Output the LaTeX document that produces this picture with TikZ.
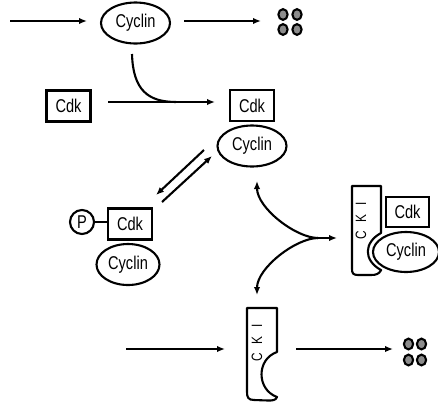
\documentclass[tikz,border=0pt]{standalone}
\usepackage{fontspec}
\setmainfont[FakeStretch=0.79]{Liberation Sans}
\usetikzlibrary{shapes.geometric,arrows.meta}
\newcommand{\lblfont}{\fontsize{18.5}{20}\selectfont}
\newcommand{\ckifont}{\fontsize{15}{17}\selectfont}
\begin{document}
\begin{tikzpicture}[x=1pt,y=-1pt,
  lw/.style={line width=2.1pt},
  box/.style={draw, line width=2.1pt, rectangle, minimum width=44pt, minimum height=31pt, inner sep=0pt, font=\lblfont},
  cyc/.style={draw, line width=2.1pt, ellipse, minimum width=69pt, minimum height=41pt, inner sep=0pt, font=\lblfont},
  arr/.style={line width=2.1pt, -{Latex[length=8pt,width=6.5pt]}},
  dotc/.style={draw, line width=2.1pt, fill=black!45, ellipse, minimum width=9.2pt, minimum height=10.8pt, inner sep=0pt},
  cki/.style={line width=2.1pt, line join=round},
  ckitext/.style={rotate=90, inner sep=0pt, font=\ckifont}
]
\useasboundingbox (0,0) rectangle (438,410);

% ---- top row
\coordinate (s1) at (10,21);
\coordinate (t1) at (87,21);
\node[cyc] (cy1) at (135.5,23) {Cyclin};
\coordinate (s2) at (184,21);
\coordinate (t2) at (261,21);
\node[dotc] (d1) at (283,14.5) {};
\node[dotc] (d2) at (297,14.5) {};
\node[dotc] (d3) at (283,29.5) {};
\node[dotc] (d4) at (297,29.5) {};
\draw[arr] (s1) -- (t1);
\draw[arr] (s2) -- (t2);

% ---- Cdk + Cyclin
\node[box] (cdk1) at (68.5,106) {Cdk};
\node[box] (cdk2) at (252,105.5) {Cdk};
\node[cyc] (cy2) at (252,146) {Cyclin};
\coordinate (h1) at (108,102);
\coordinate (h2) at (215,102);
\coordinate (m1) at (176,102);
\coordinate (c1) at (132,54);
\draw[arr] (h1) -- (h2);
\draw[lw] (c1) .. controls (133,90) and (148,102) .. (m1);

% ---- double arrows
\coordinate (a1s) at (204,150);
\coordinate (a1e) at (156,195);
\coordinate (a2s) at (162,202);
\coordinate (a2e) at (212,156);
\draw[arr] (a1s) -- (a1e);
\draw[arr] (a2s) -- (a2e);

% ---- phosphorylated complex
\node[draw, circle, line width=2.1pt, minimum size=24pt, inner sep=0pt, font=\lblfont] (p) at (82,222) {P};
\node[box] (cdk3) at (130,224) {Cdk};
\node[cyc, minimum width=63pt] (cy3) at (128,264.5) {Cyclin};
\draw[lw] (p.east) -- (p.east -| cdk3.west);

% ---- branching arrows
\coordinate (J) at (318,238);
\coordinate (up) at (257,181);
\coordinate (dn) at (257,295);
\coordinate (rt) at (337,238);
\draw[arr] (J) .. controls (296,238) and (257,208) .. (up);
\draw[arr] (J) .. controls (296,238) and (257,268) .. (dn);
\draw[arr] (J) -- (rt);

% ---- CKI complex
\draw[cki] (352,186) -- (381,186) -- (381,233) .. controls (363.8,242.4) and (363,260.2) .. (381.1,270.1)
  .. controls (379,274) and (376,275) .. (371,275) -- (358,275) .. controls (353,275) and (352,273) .. (352,269) -- cycle;
\node[ckitext] (ckiA) at (361,221) {C\hspace{9pt}K\hspace{9pt}I};
\node[box, minimum width=43pt, minimum height=30pt] (cdk4) at (407.5,212) {Cdk};
\node[cyc, minimum width=66pt, minimum height=40pt] (cy4) at (406,252) {Cyclin};

% ---- free CKI
\coordinate (b1) at (126,349);
\coordinate (b2) at (225,349);
\coordinate (b3) at (296,349);
\coordinate (b4) at (393,349);
\draw[arr] (b1) -- (b2);
\draw[arr] (b3) -- (b4);
\draw[cki] (247,308) -- (277,308) -- (277,352) .. controls (256.3,359.2) and (256.4,389.5) .. (277,397)
  .. controls (276,400.5) and (272,400.5) .. (268,400.5) -- (254,400) .. controls (248,400) and (247,397) .. (247,392) -- cycle;
\node[ckitext] (ckiB) at (257,343) {C\hspace{9pt}K\hspace{9pt}I};
\node[dotc] (e1) at (408.5,344) {};
\node[dotc] (e2) at (421.5,344) {};
\node[dotc] (e3) at (408.5,360) {};
\node[dotc] (e4) at (421.5,360) {};
\end{tikzpicture}
\end{document}
